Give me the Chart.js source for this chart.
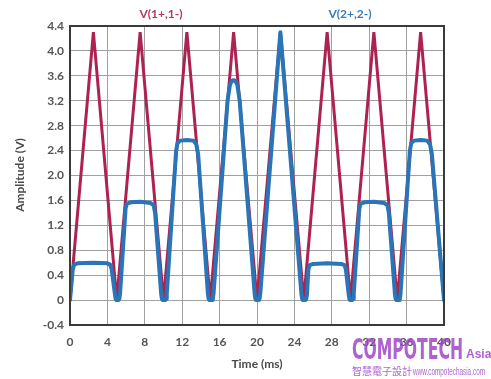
<!DOCTYPE html>
<html>
<head>
<meta charset="utf-8">
<script src="https://cdn.jsdelivr.net/npm/chart.js@4/dist/chart.umd.min.js"></script>
<style>
  html, body { margin: 0; padding: 0; background: #ffffff; }
  #wrap { width: 491px; height: 379px; position: relative; }
</style>
</head>
<body>
<div id="wrap"><canvas id="c" width="491" height="379"></canvas></div>
<script>
// ---- data ----
const seriesNames = ['V(1+,1-)', 'V(2+,2-)'];
const xTickValues = [0, 4, 8, 12, 16, 20, 24, 28, 32, 36, 40];
const yTickValues = [-0.4, 0, 0.4, 0.8, 1.2, 1.6, 2.0, 2.4, 2.8, 3.2, 3.6, 4.0, 4.4];

// V(1+,1-): triangle wave (time ms, volts)
const redTime = [0, 2.5, 5, 7.5, 10, 12.5, 15, 17.5, 20, 22.5, 25, 27.5, 30, 32.5, 35, 37.5, 40];
const redVolt = [0, 4.3, 0, 4.3, 0, 4.3, 0, 4.3, 0, 4.3, 0, 4.3, 0, 4.3, 0, 4.3, 0];

// V(2+,2-): clipped wave (time ms, volts)
const blueTime = [
  0, 0.3, 0.45, 0.8, 2.5, 4.0, 4.3, 4.45, 4.8, 4.88, 4.95, 5.2, 5.27,
  5.35, 5.95, 6.1, 6.5, 7.5, 8.6, 8.95, 9.1, 9.75, 9.83, 9.9, 10.2, 10.27,
  10.35, 11.35, 11.5, 11.8, 12.5, 13.2, 13.5, 13.7, 14.75, 14.83, 14.9, 15.2, 15.27,
  15.35, 16.85, 17.1, 17.3, 17.5, 17.7, 17.9, 18.15, 19.75, 19.83, 19.9, 20.2, 20.27,
  20.35, 22.5, 24.75, 24.83, 24.9, 25.2, 25.27,
  25.35, 25.5, 25.65, 26.0, 27.5, 29.0, 29.35, 29.5, 29.8, 29.88, 29.95, 30.2, 30.27,
  30.35, 30.95, 31.1, 31.5, 32.5, 33.6, 33.95, 34.1, 34.75, 34.83, 34.9, 35.2, 35.27,
  35.35, 36.35, 36.5, 36.8, 37.5, 38.2, 38.5, 38.7, 40
];
const blueVolt = [
  0, 0.5, 0.57, 0.59, 0.6, 0.59, 0.57, 0.5, 0.1, 0.02, 0, 0, 0.02,
  0.1, 1.48, 1.55, 1.57, 1.58, 1.56, 1.52, 1.4, 0.1, 0.02, 0, 0, 0.02,
  0.1, 2.4, 2.52, 2.56, 2.57, 2.56, 2.5, 2.35, 0.1, 0.02, 0, 0, 0.02,
  0.1, 3.2, 3.45, 3.52, 3.53, 3.52, 3.45, 3.2, 0.1, 0.02, 0, 0, 0.02,
  0.1, 4.3, 0.1, 0.02, 0, 0, 0.02,
  0.1, 0.5, 0.56, 0.58, 0.59, 0.58, 0.56, 0.5, 0.1, 0.02, 0, 0, 0.02,
  0.1, 1.48, 1.55, 1.57, 1.58, 1.56, 1.52, 1.4, 0.1, 0.02, 0, 0, 0.02,
  0.1, 2.4, 2.52, 2.56, 2.57, 2.56, 2.5, 2.35, 0
];

const RED = '#ad224f';
const BLUE = '#2a74b8';

function pts(xs, ys) { return xs.map((x, i) => ({ x: x, y: ys[i] })); }

const decor = {
  id: 'decor',
  afterDatasetsDraw(chart) {
    const ctx = chart.ctx, a = chart.chartArea;
    ctx.save();
    ctx.strokeStyle = '#3a3a3a';
    ctx.lineWidth = 2;
    ctx.strokeRect(a.left, a.top, a.right - a.left, a.bottom - a.top);
    ctx.restore();
  },
  afterDraw(chart) {
    const ctx = chart.ctx;
    ctx.save();
    ctx.textAlign = 'center';
    ctx.textBaseline = 'middle';
    ctx.font = 'bold 12px Lato, "Open Sans", sans-serif';
    ctx.fillStyle = '#b03a64';
    ctx.fillText(seriesNames[0], 161, 14);
    ctx.fillStyle = '#3a7ab8';
    ctx.fillText(seriesNames[1], 350, 14);
    // axis titles
    ctx.fillStyle = '#4a4a4a';
    ctx.font = 'bold 12px Lato, "Open Sans", sans-serif';
    ctx.fillText('Time (ms)', 257, 364);
    ctx.save();
    ctx.translate(20, 175);
    ctx.rotate(-Math.PI / 2);
    ctx.fillText('Amplitude (V)', 0, 0);
    ctx.restore();
    // watermark
    ctx.fillStyle = 'rgba(160,70,200,0.85)';
    ctx.textAlign = 'left';
    ctx.textBaseline = 'alphabetic';
    ctx.font = 'bold 29px "Liberation Sans Narrow", "DejaVu Sans Condensed", sans-serif';
    const w = ctx.measureText('COMPOTECH').width;
    ctx.save();
    ctx.translate(352, 359);
    ctx.scale(111 / w, 1);
    ctx.fillText('COMPOTECH', 0, 0);
    ctx.restore();
    ctx.font = 'bold 12px "Liberation Sans Narrow", sans-serif';
    ctx.fillText('Asia', 466, 358);
    ctx.font = '10px "Noto Sans CJK TC", sans-serif';
    ctx.fillText('智慧電子設計', 352, 375);
    ctx.font = '10px "Liberation Sans Narrow", sans-serif';
    const w2 = ctx.measureText('www.compotechasia.com').width;
    ctx.save();
    ctx.translate(413, 375);
    ctx.scale(72 / w2, 1);
    ctx.fillText('www.compotechasia.com', 0, 0);
    ctx.restore();
    ctx.restore();
  }
};

new Chart(document.getElementById('c'), {
  type: 'line',
  data: {
    datasets: [
      { label: seriesNames[1], data: pts(blueTime, blueVolt), borderColor: BLUE, borderWidth: 4,
        pointRadius: 0, tension: 0, order: 1, borderJoinStyle: 'round', borderCapStyle: 'round' },
      { label: seriesNames[0], data: pts(redTime, redVolt), borderColor: RED, borderWidth: 3,
        pointRadius: 0, tension: 0, order: 2, borderJoinStyle: 'miter' }
    ]
  },
  options: {
    responsive: false,
    animation: false,
    devicePixelRatio: 1,
    layout: { padding: { top: 26, right: 47, left: 0, bottom: 0 } },
    plugins: { legend: { display: false }, tooltip: { enabled: false } },
    scales: {
      x: {
        type: 'linear', min: 0, max: 40,
        afterBuildTicks(s) { s.ticks = xTickValues.map(v => ({ value: v })); },
        afterFit(s) { s.height = 54; },
        grid: { color: '#a0a0a0', lineWidth: 1, drawTicks: false },
        border: { display: true, color: '#3a3a3a', width: 2 },
        ticks: { padding: 10, color: '#555', font: { family: 'Lato, "Open Sans", sans-serif', size: 12, weight: 'bold' }, maxRotation: 0 }
      },
      y: {
        type: 'linear', min: -0.4, max: 4.4,
        afterBuildTicks(s) { s.ticks = yTickValues.map(v => ({ value: v })); },
        afterFit(s) { s.width = 70; },
        grid: { color: '#a0a0a0', lineWidth: 1, drawTicks: false },
        border: { display: true, color: '#3a3a3a', width: 2 },
        ticks: {
          padding: 6, color: '#555', font: { family: 'Lato, "Open Sans", sans-serif', size: 12, weight: 'bold' },
          callback: v => (Math.abs(v) < 1e-9 ? '0' : v.toFixed(1))
        }
      }
    }
  },
  plugins: [decor]
});
</script>
</body>
</html>
